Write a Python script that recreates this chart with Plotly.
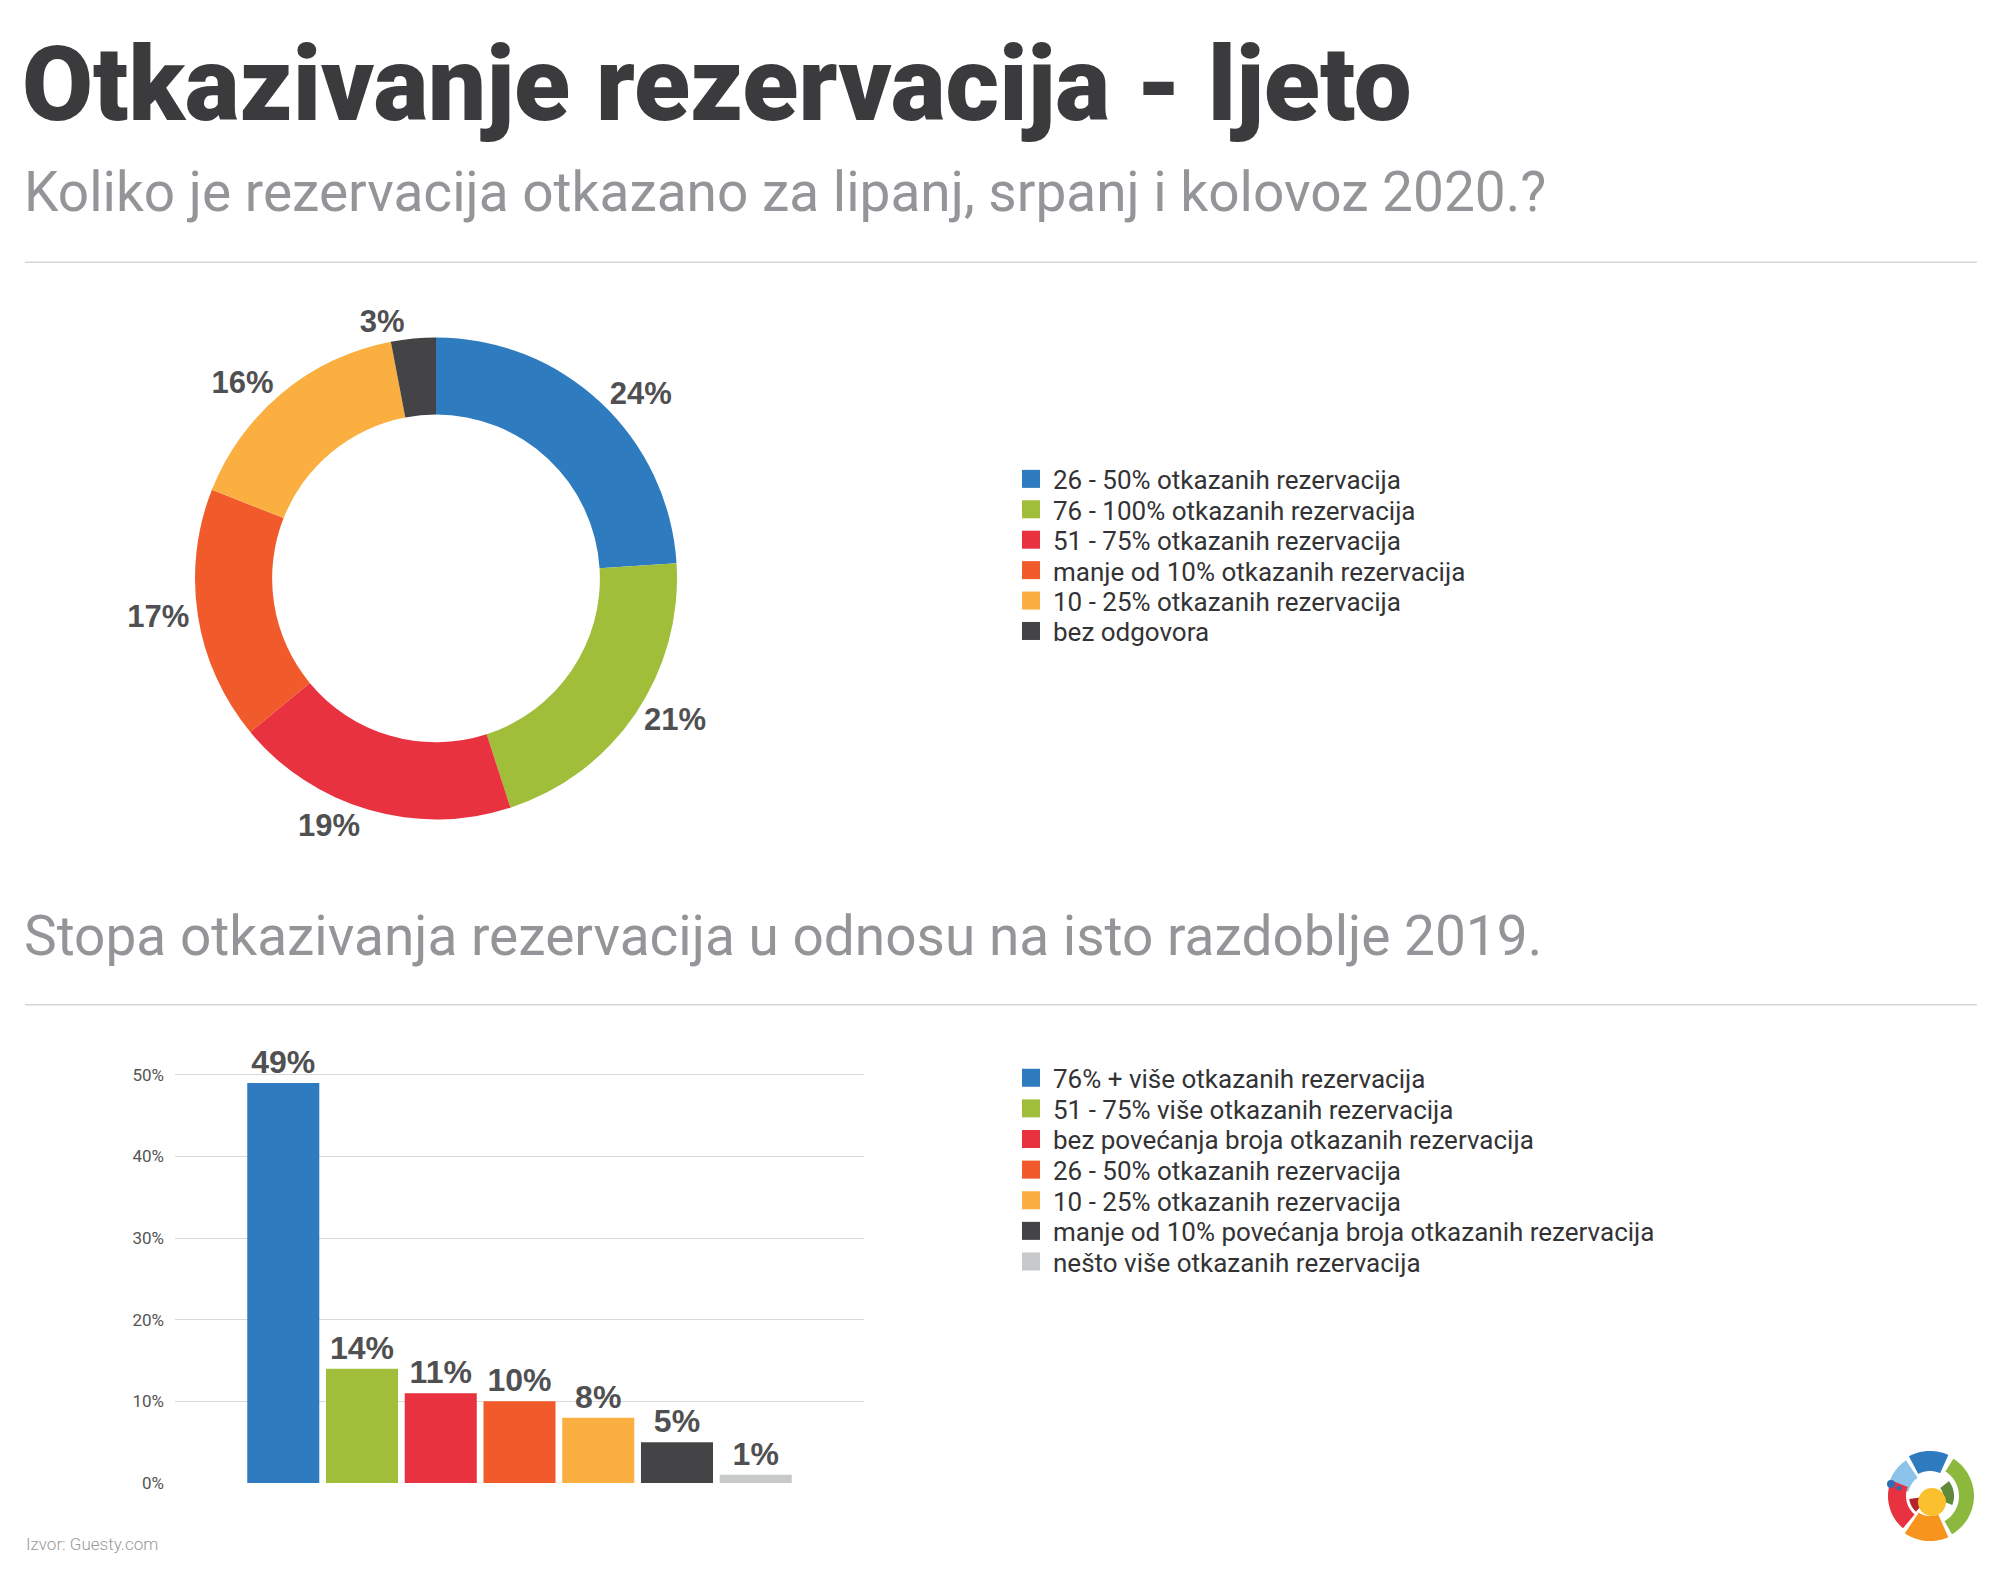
import math
import plotly.graph_objects as go

# Screenshot size; the figure sits inside the page's default 8px body margin.
# The capture is slightly squeezed vertically, so target pixels are mapped back.
SW, SH = 2000, 1578
BODY = 8
K = 0.993
W, H = SW - 2 * BODY, 1575

TITLE = "Otkazivanje rezervacija - ljeto"
SUB1 = "Koliko je rezervacija otkazano za lipanj, srpanj i kolovoz 2020.?"
SUB2 = "Stopa otkazivanja rezervacija u odnosu na isto razdoblje 2019."
SOURCE = "Izvor: Guesty.com"

pie_labels = [
    "26 - 50% otkazanih rezervacija",
    "76 - 100% otkazanih rezervacija",
    "51 - 75% otkazanih rezervacija",
    "manje od 10% otkazanih rezervacija",
    "10 - 25% otkazanih rezervacija",
    "bez odgovora",
]
pie_values = [24, 21, 19, 17, 16, 3]
pie_colors = ["#2E7CBF", "#A1BE3B", "#E9323F", "#F15A2B", "#FBAF41", "#444446"]

bar_labels = [
    "76% + više otkazanih rezervacija",
    "51 - 75% više otkazanih rezervacija",
    "bez povećanja broja otkazanih rezervacija",
    "26 - 50% otkazanih rezervacija",
    "10 - 25% otkazanih rezervacija",
    "manje od 10% povećanja broja otkazanih rezervacija",
    "nešto više otkazanih rezervacija",
]
bar_values = [49, 14, 11, 10, 8, 5, 1]
bar_colors = ["#2E7CBF", "#A1BE3B", "#E9323F", "#F15A2B", "#FBAF41", "#444446", "#C8C9CB"]
bar_category = ["2019"]
y_tickvals = [0, 10, 20, 30, 40, 50]
y_ticktext = ["0%", "10%", "20%", "30%", "40%", "50%"]

FONT = "Roboto"
LABEL_FONT = "Liberation Sans"
LABEL_COLOR = "#505052"


def px(x):
    return (x - BODY) / W


def py(y):
    return 1 - (y / K - BODY) / H


fig = go.Figure()

# Donut
fig.add_trace(go.Pie(
    values=pie_values,
    labels=pie_labels,
    marker=dict(colors=pie_colors, line=dict(width=0)),
    hole=0.68,
    sort=False,
    direction="clockwise",
    rotation=0,
    textposition="outside",
    texttemplate="%{value}%",
    textfont=dict(family=LABEL_FONT, size=31, color=LABEL_COLOR, weight="bold"),
    showlegend=False,
    domain=dict(x=[px(436 - 241), px(436 + 241)], y=[py(819), py(337)]),
    hoverinfo="label+value",
))

# Bars
for lab, val, col in zip(bar_labels, bar_values, bar_colors):
    fig.add_trace(go.Bar(
        x=bar_category, y=[val], name=lab,
        marker=dict(color=col, line=dict(width=0)),
        text=[f"{val}%"], textposition="outside",
        textfont=dict(family=LABEL_FONT, size=32, color=LABEL_COLOR, weight="bold"),
        constraintext="none", cliponaxis=False,
        showlegend=False, xaxis="x", yaxis="y",
    ))

shapes = [
    dict(type="line", xref="paper", yref="paper", x0=px(25), x1=px(1977),
         y0=py(262), y1=py(262), line=dict(color="#D5D5D5", width=1.5)),
    dict(type="line", xref="paper", yref="paper", x0=px(25), x1=px(1977),
         y0=py(1004), y1=py(1004), line=dict(color="#D5D5D5", width=1.5)),
]
annotations = []

# Legends (square swatch + label), built from the label / colour lists
LEG_X, SW_SIZE, TXT_X = 1022, 18, 1051


def add_legend(labels, colors, y_first, pitch):
    for i, (lab, col) in enumerate(zip(labels, colors)):
        yc = y_first + i * pitch
        shapes.append(dict(type="rect", xref="paper", yref="paper",
                           x0=px(LEG_X), x1=px(LEG_X + SW_SIZE),
                           y0=py(yc + SW_SIZE / 2), y1=py(yc - SW_SIZE / 2),
                           fillcolor=col, line=dict(width=0)))
        annotations.append(dict(text=lab, x=px(TXT_X), y=py(yc + 1.5), xref="paper", yref="paper",
                                xanchor="left", yanchor="middle", showarrow=False,
                                font=dict(family=FONT, size=26, color="#333335")))


add_legend(pie_labels, pie_colors, 478.5, 30.4)
add_legend(bar_labels, bar_colors, 1077, 30.6)


# Decorative logo (approximation)
def sector_path(cx, cy, r1, r2, a1, a2, n=24):
    pts = []
    for i in range(n + 1):
        a = math.radians(a1 + (a2 - a1) * i / n)
        pts.append((cx + r2 * math.sin(a), cy - r2 * math.cos(a)))
    for i in range(n + 1):
        a = math.radians(a2 - (a2 - a1) * i / n)
        pts.append((cx + r1 * math.sin(a), cy - r1 * math.cos(a)))
    return "M " + " L ".join(f"{px(x):.5f},{py(y):.5f}" for x, y in pts) + " Z"


LCX, LCY = 1930, 1495
logo_parts = [
    (25, 45, -28, 24, "#2E7CBF"),
    (22, 43, -78, -34, "#8CC3EA"),
    (29, 44, 32, 150, "#8DB83E"),
    (13, 24, 52, 112, "#5E8A3A"),
    (20, 45, 156, 214, "#F7941D"),
    (24, 42, 220, 292, "#E9323F"),
    (7, 21, 222, 262, "#B3262D"),
]
for r1, r2, a1, a2, col in logo_parts:
    shapes.append(dict(type="path", xref="paper", yref="paper",
                       path=sector_path(LCX, LCY, r1, r2, a1, a2),
                       fillcolor=col, line=dict(width=0)))
for cx, cy, r, col in [(1932, 1501, 14, "#FBC02D"), (1891, 1483, 4, "#2E6DB4"), (1899, 1487, 2.5, "#2E6DB4")]:
    shapes.append(dict(type="circle", xref="paper", yref="paper",
                       x0=px(cx - r), x1=px(cx + r), y0=py(cy + r), y1=py(cy - r),
                       fillcolor=col, line=dict(width=0)))

annotations += [
    dict(text=TITLE, x=px(20), y=py(84), xref="paper", yref="paper",
         xanchor="left", yanchor="middle", showarrow=False,
         font=dict(family=FONT, size=103, color="#3B3B3D", weight=900)),
    dict(text=SUB1, x=px(22), y=py(192), xref="paper", yref="paper",
         xanchor="left", yanchor="middle", showarrow=False,
         font=dict(family=FONT, size=55, color="#939598")),
    dict(text=SUB2, x=px(22), y=py(935), xref="paper", yref="paper",
         xanchor="left", yanchor="middle", showarrow=False,
         font=dict(family=FONT, size=55, color="#939598")),
    dict(text=SOURCE, x=px(24), y=py(1543), xref="paper", yref="paper",
         xanchor="left", yanchor="middle", showarrow=False,
         font=dict(family=FONT, size=17, color="#9A9A9A", weight=300)),
]

fig.update_layout(
    width=W, height=H,
    margin=dict(l=0, r=0, t=0, b=0),
    paper_bgcolor="white", plot_bgcolor="white",
    barmode="group", bargap=0.2, bargroupgap=0.085,
    showlegend=False,
    xaxis=dict(domain=[px(175), px(864)], showticklabels=False, showgrid=False,
               zeroline=False, showline=False, ticks=""),
    yaxis=dict(domain=[py(1482), py(1482 - 55 * 8.16)], range=[0, 55],
               tickvals=y_tickvals, ticktext=y_ticktext,
               showgrid=True, gridcolor="#D9D9D9", gridwidth=1,
               zeroline=False, showline=False, ticks="",
               ticklabelstandoff=10,
               tickfont=dict(family=FONT, size=17, color="#555555")),
    shapes=shapes,
    annotations=annotations,
)

fig.write_html("out.html")
